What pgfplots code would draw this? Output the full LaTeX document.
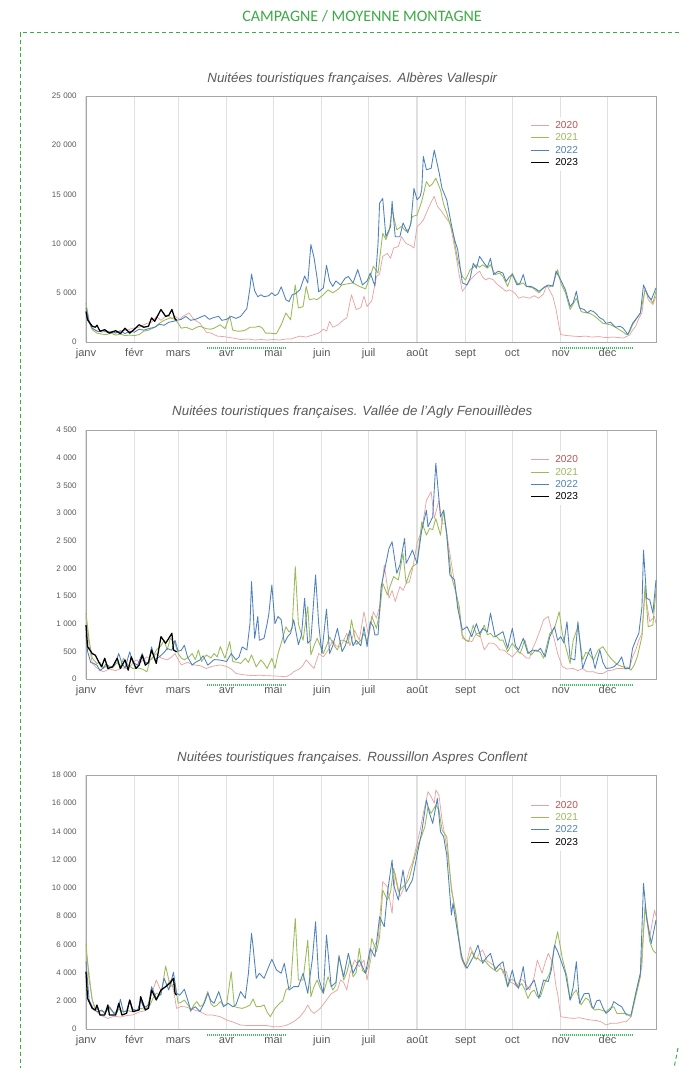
\documentclass[border=0pt]{standalone}
\usepackage{fontspec}
\setmainfont{Liberation Sans}
\newfontfamily\carlito{Carlito}
\usepackage{pgfplots}
\pgfplotsset{compat=1.18}

\definecolor{c20}{HTML}{E6A3A2}
\definecolor{c20t}{HTML}{C0504D}
\definecolor{c21}{HTML}{9BBB59}
\definecolor{c22}{HTML}{4F81BD}
\definecolor{txtgray}{HTML}{595959}
\definecolor{framegreen}{HTML}{3CAA45}
\definecolor{holgreen}{HTML}{3DBE60}

\tikzset{hol/.style={holgreen, dash pattern=on 0.75pt off 0.75pt, line width=0.8pt}}

\pgfplotsset{
  panel/.style={
    scale only axis, width=427.5pt,
    xmin=0, xmax=365, ymin=0,
    clip=false,
    xtick={0,31,59,90,120,151,181,212,243,273,304,334},
    xticklabels={janv,févr,mars,avr,mai,juin,juil,août,sept,oct,nov,déc},
    xmajorgrids,
    major grid style={line width=0.9pt, black!12},
    major tick length=0pt,
    axis line style={black!35, line width=0.7pt},
    scaled y ticks=false,
    /pgf/number format/1000 sep={\hspace{0.3em}},
    /pgf/number format/assume math mode=true,
    yticklabel style={font=\fontsize{6}{7}\selectfont, text=txtgray, xshift=-3.5pt},
    xticklabel style={font=\fontsize{8.3}{10}\selectfont, text=txtgray, anchor=base, yshift=-11pt},
    title style={font=\itshape\fontsize{10}{12}\selectfont, text=txtgray,
      anchor=base, at={(0.5,1)}, xshift=-14pt},
    legend style={at={(0.775,0.915)}, anchor=north west, draw=none, fill=white,
      font=\fontsize{7.6}{9}\selectfont, row sep=0.5pt, column sep=4pt, inner sep=2pt,
      nodes={inner sep=0.6pt, text height=6pt, text depth=1.5pt}},
    legend cell align=left,
    legend image code/.code={\draw[##1, line width=0.9pt] (0pt,0pt) -- (13pt,0pt);},
  },
  p20/.style={c20, line width=0.55pt, line join=round},
  p21/.style={c21, line width=0.65pt, line join=round},
  p22/.style={c22, line width=0.65pt, line join=round},
  p23/.style={black, line width=0.95pt, line join=round},
}

\begin{document}
\begin{tikzpicture}
\useasboundingbox (0,0) rectangle (509.25pt,802.5pt);

% header and frame
\node[text=framegreen, font=\carlito\fontsize{12}{14}\selectfont] at (271.5pt,790.5pt) {CAMPAGNE / MOYENNE MONTAGNE};
\draw[framegreen, line width=0.75pt, dash pattern=on 3pt off 2.2pt] (509.25pt,777.75pt) -- (15pt,777.75pt) -- (15pt,1.5pt);
\draw[framegreen, line width=0.75pt, dash pattern=on 3pt off 2.2pt] (508.5pt,16.5pt) -- (505.5pt,1.5pt);

% ---------- Albères Vallespir ----------
\begin{axis}[panel, at={(64.5pt,546pt)}, anchor=south west, height=184.5pt,
  ymax=25000, ytick={0,5000,10000,15000,20000,25000},
  title={Nuitées touristiques françaises. Albères Vallespir},
  title style={yshift=3.75pt}]
\addplot[p20] coordinates {(0,3900)(2,2200)(4,1400)(7,1100)(10,1000)(14,1100)(18,900)(22,1100)(26,1200)(30,1400)(34,1500)(39,1900)(42,2000)(45,2600)(48,2200)(52,2750)(55,2400)(57,2600)(60,2300)(62,2600)(66,2950)(69,2300)(73,1900)(77,1000)(80,900)(84,600)(88,550)(92,450)(96,350)(99,250)(104,300)(108,200)(112,250)(116,200)(120,250)(124,200)(128,300)(131,300)(134,450)(137,600)(141,500)(146,750)(149,900)(152,1300)(154,1100)(156,2100)(158,1500)(161,1700)(165,2250)(167,2450)(170,4800)(173,3300)(176,3500)(178,4650)(180,3600)(183,4200)(186,6650)(188,6900)(190,8700)(193,9000)(195,8500)(197,9550)(200,9700)(202,10700)(205,10000)(208,9800)(210,9550)(212,11750)(214,12000)(216,12400)(219,13500)(221,14200)(223,14800)(225,13800)(228,13200)(231,12500)(233,12100)(235,10500)(237,8700)(239,6800)(241,5150)(243,5600)(246,6300)(249,6800)(252,7200)(254,6600)(256,6300)(258,6500)(261,6300)(263,5900)(265,5650)(267,5400)(269,5150)(271,5300)(273,5150)(275,4900)(277,4450)(280,4600)(284,4450)(287,4700)(290,4450)(293,4900)(295,5800)(297,5200)(299,4600)(301,3300)(303,1500)(304,750)(308,650)(312,600)(316,550)(320,600)(324,500)(328,550)(333,450)(338,500)(344,400)(348,700)(350,1200)(352,1600)(354,2400)(356,2950)(358,5500)(360,4300)(363,3800)(365,4650)};
\addlegendentry{\textcolor{c20t}{2020}}
\addplot[p21] coordinates {(0,3950)(2,2000)(4,1250)(7,900)(10,800)(13,750)(16,900)(19,700)(22,800)(25,650)(28,700)(31,650)(34,750)(37,1100)(40,1200)(44,1500)(47,1900)(50,2200)(54,2450)(57,2300)(59,1900)(61,1400)(64,1500)(68,1250)(71,1500)(73,1600)(77,1350)(80,1300)(82,1400)(86,1750)(89,1350)(92,2650)(94,1200)(97,1100)(99,1100)(102,1200)(105,1500)(108,1500)(111,1600)(113,1400)(115,900)(118,900)(120,850)(122,850)(125,1750)(128,2950)(131,2250)(134,5800)(136,3450)(139,3600)(141,5650)(143,4300)(146,4400)(148,4300)(152,4800)(155,5300)(158,5000)(161,5300)(164,5800)(167,5900)(171,6000)(175,5650)(179,5400)(182,6650)(184,7700)(187,7000)(190,11050)(192,10400)(194,11200)(196,13400)(199,11400)(202,11750)(205,11250)(207,11500)(209,12750)(212,12900)(215,14300)(218,16300)(220,15800)(222,16100)(224,16650)(227,15450)(229,14000)(231,13100)(233,12000)(235,11050)(238,8350)(241,6650)(243,6300)(246,7350)(248,7600)(250,7850)(252,7600)(254,7850)(257,7500)(259,7850)(262,6850)(265,7000)(267,6650)(270,5650)(273,7000)(275,6300)(277,5800)(280,6000)(282,5650)(286,5500)(290,5000)(294,5650)(297,5600)(299,5800)(302,7350)(304,6000)(307,5000)(310,3300)(314,4450)(317,3100)(319,3000)(322,2950)(325,2700)(327,2450)(331,1900)(334,1800)(336,1750)(339,1500)(341,1300)(344,1000)(346,750)(348,1000)(350,1750)(353,2500)(355,2950)(358,5300)(361,4450)(363,3950)(365,5150)};
\addlegendentry{\textcolor{c21}{2021}}
\addplot[p22] coordinates {(0,3500)(2,2000)(4,1400)(6,1200)(8,1050)(11,1150)(14,950)(17,1100)(19,900)(22,1150)(25,850)(28,1100)(31,1000)(34,1300)(37,1200)(40,1350)(44,1500)(47,1800)(50,1700)(53,2000)(56,2100)(58,2200)(61,2300)(64,2600)(67,2200)(70,2300)(73,2500)(76,2700)(79,2300)(82,2500)(85,2600)(87,2200)(90,2300)(93,2600)(96,2400)(99,2600)(101,3000)(103,3400)(105,5500)(106,6900)(108,5200)(110,4600)(112,4800)(114,4600)(117,4700)(119,5000)(121,4700)(123,4900)(125,5600)(128,4300)(130,4100)(132,4800)(134,4900)(137,5300)(140,6700)(142,6000)(144,9900)(146,8600)(148,6500)(149,5100)(152,5500)(154,7800)(156,6200)(158,5650)(160,6200)(163,5800)(166,6500)(168,6650)(171,6000)(174,7350)(177,5800)(180,6200)(182,7000)(185,5700)(187,10000)(188,14100)(190,14600)(192,10700)(195,11700)(196,14300)(198,10700)(201,10700)(203,12100)(206,11100)(208,12000)(210,15600)(212,14450)(214,14800)(215,15500)(216,18850)(218,17500)(221,17650)(223,19500)(226,17300)(228,15600)(231,14450)(234,11900)(236,10400)(238,9400)(241,6000)(244,5800)(246,6500)(248,8000)(250,7500)(252,8700)(255,8000)(257,7600)(259,8500)(261,6850)(264,7200)(267,7000)(269,6150)(271,6600)(273,6850)(276,5800)(278,6000)(280,6850)(282,5650)(285,5650)(288,5400)(290,5150)(293,5500)(296,5800)(299,5650)(301,7200)(304,6300)(307,5300)(310,3600)(312,4000)(314,5150)(316,3450)(319,3300)(321,2950)(323,3200)(325,3100)(327,2800)(329,2450)(331,2300)(333,1900)(336,2000)(339,1500)(342,1600)(344,1400)(347,750)(350,1900)(353,2500)(355,2950)(357,5800)(360,4650)(362,4300)(365,5500)};
\addlegendentry{\textcolor{c22}{2022}}
\addplot[p23] coordinates {(0,3100)(1,2250)(4,1600)(6,1500)(7,1700)(9,1100)(12,1250)(15,900)(19,1150)(22,850)(25,1400)(28,900)(31,1300)(34,1750)(37,1500)(40,1600)(42,2450)(44,2100)(48,3300)(51,2600)(53,2700)(55,3300)(57,2350)(58,2200)};
\addlegendentry{2023}
\draw[hol] ([yshift=-4.5pt]axis cs:77.5,0) -- ([yshift=-4.5pt]axis cs:127.5,0);
\draw[hol] ([yshift=-4.5pt]axis cs:303.5,0) -- ([yshift=-4.5pt]axis cs:350.5,0);
\end{axis}

% ---------- Vallée de l'Agly Fenouillèdes ----------
\begin{axis}[panel, at={(64.5pt,293.25pt)}, anchor=south west, height=186.75pt,
  ymax=4500, ytick={0,500,...,4500},
  title={Nuitées touristiques françaises. Vallée de l'Agly Fenouillèdes},
  title style={yshift=4.5pt}]
\addplot[p20] coordinates {(0,1130)(2,600)(4,280)(7,200)(11,130)(15,180)(19,150)(23,200)(26,190)(29,250)(32,345)(35,300)(39,400)(42,350)(45,460)(48,380)(52,345)(55,400)(57,460)(59,350)(61,255)(65,300)(69,255)(73,240)(77,190)(81,230)(86,255)(90,225)(93,180)(96,100)(100,80)(103,70)(107,60)(111,70)(115,60)(120,55)(124,50)(128,40)(131,80)(133,130)(137,190)(139,250)(141,345)(144,250)(146,190)(149,460)(152,400)(155,520)(158,700)(160,600)(163,580)(165,700)(167,825)(169,600)(172,880)(175,700)(178,1215)(181,760)(184,1215)(186,1100)(188,1310)(191,2060)(194,1460)(196,1600)(198,1400)(201,1670)(203,1600)(205,1730)(207,1750)(209,1970)(212,2450)(215,2690)(218,3230)(221,3385)(223,2900)(226,3230)(228,2800)(230,2810)(233,2270)(236,1730)(239,1190)(241,735)(244,700)(247,675)(250,820)(252,825)(255,525)(258,650)(261,645)(263,600)(265,525)(268,520)(270,460)(273,400)(276,500)(279,460)(282,380)(284,375)(286,550)(288,675)(291,900)(293,1070)(296,1130)(298,900)(300,705)(302,460)(305,225)(308,180)(312,190)(315,150)(318,190)(321,130)(325,130)(328,100)(331,100)(334,150)(337,160)(340,190)(343,190)(346,180)(348,190)(350,400)(352,525)(354,700)(356,825)(358,1550)(361,1035)(364,1130)(365,1000)};
\addlegendentry{\textcolor{c20t}{2020}}
\addplot[p21] coordinates {(0,1190)(2,700)(4,375)(7,280)(9,300)(11,190)(14,250)(17,200)(20,300)(22,220)(24,375)(27,250)(30,190)(33,200)(36,180)(39,130)(41,345)(43,400)(45,525)(48,600)(50,700)(52,525)(54,735)(57,645)(59,460)(61,380)(63,345)(66,400)(68,460)(70,350)(72,525)(74,315)(77,435)(80,380)(82,460)(84,400)(86,585)(89,375)(92,675)(94,315)(97,300)(99,280)(102,375)(104,300)(106,435)(109,220)(112,345)(114,280)(116,190)(119,375)(121,190)(123,460)(125,645)(128,945)(130,850)(132,910)(134,2030)(136,1000)(139,700)(142,1310)(144,435)(146,600)(148,735)(150,600)(152,460)(154,600)(156,760)(159,600)(161,525)(163,700)(165,700)(168,645)(170,1070)(173,620)(176,700)(178,825)(180,670)(183,1130)(186,915)(188,1200)(190,1730)(193,1520)(195,1700)(197,1850)(200,1790)(203,2270)(205,1730)(207,1900)(209,2030)(212,2090)(215,2840)(218,2600)(220,2720)(222,2700)(224,2900)(227,2600)(229,3050)(231,2580)(234,1850)(237,1550)(239,1310)(241,795)(243,700)(245,675)(248,975)(250,800)(252,765)(255,975)(257,800)(259,825)(261,760)(263,765)(265,700)(267,705)(270,495)(273,645)(275,560)(278,460)(281,705)(283,500)(285,435)(288,525)(291,480)(293,375)(295,600)(297,825)(300,915)(303,1215)(305,825)(307,600)(310,280)(312,705)(315,945)(318,345)(320,480)(322,460)(325,345)(328,525)(331,585)(334,450)(336,375)(339,290)(341,250)(344,220)(347,210)(349,160)(351,250)(353,400)(356,765)(358,1700)(360,945)(363,975)(365,1610)};
\addlegendentry{\textcolor{c21}{2021}}
\addplot[p22] coordinates {(0,800)(1,500)(3,300)(5,280)(7,250)(9,150)(11,200)(13,280)(15,200)(18,240)(21,460)(23,280)(25,200)(28,490)(30,300)(33,250)(36,460)(38,300)(40,280)(42,580)(44,350)(47,400)(50,480)(52,550)(55,520)(57,700)(59,500)(61,520)(63,610)(65,400)(68,250)(70,300)(73,345)(75,420)(78,250)(80,300)(82,350)(85,345)(88,330)(90,315)(93,460)(96,345)(98,400)(100,580)(103,525)(105,1000)(106,1760)(108,735)(110,1130)(111,700)(114,735)(116,1000)(117,1160)(119,1700)(121,1000)(123,1130)(125,1070)(127,645)(129,760)(131,825)(133,1070)(136,620)(138,800)(140,1460)(142,645)(144,700)(147,1880)(149,1000)(151,460)(154,1265)(156,460)(158,600)(161,915)(164,495)(166,600)(169,880)(171,600)(173,700)(176,600)(178,945)(180,585)(182,1035)(184,945)(185,795)(187,800)(189,1670)(191,1940)(194,2360)(196,2480)(199,1910)(201,2060)(204,2540)(205,2090)(207,2200)(209,2330)(212,2090)(215,2690)(218,3050)(219,2750)(222,2930)(224,3900)(225,3570)(227,2930)(229,3050)(231,2630)(233,1880)(236,1790)(238,1280)(241,885)(244,945)(247,765)(250,1000)(252,820)(254,915)(257,850)(259,1190)(262,765)(264,800)(267,855)(270,555)(273,915)(275,600)(277,525)(280,735)(283,460)(286,525)(289,500)(291,555)(294,400)(297,765)(300,945)(302,700)(304,765)(306,650)(308,1035)(310,375)(313,345)(315,1035)(318,190)(320,350)(323,555)(326,190)(329,525)(331,300)(333,190)(336,200)(338,220)(341,300)(343,400)(345,190)(348,190)(350,555)(352,700)(354,825)(356,1300)(357,2330)(359,1460)(361,1430)(363,1190)(365,1790)};
\addlegendentry{\textcolor{c22}{2022}}
\addplot[p23] coordinates {(0,975)(1,585)(4,460)(6,430)(8,315)(10,220)(12,375)(14,190)(17,220)(20,375)(22,190)(25,345)(27,160)(29,400)(32,190)(34,250)(36,430)(38,250)(40,300)(42,525)(45,280)(48,765)(51,645)(53,735)(55,825)(56,525)(58,490)};
\addlegendentry{2023}
\draw[hol] ([yshift=-4.5pt]axis cs:77.5,0) -- ([yshift=-4.5pt]axis cs:127.5,0);
\draw[hol] ([yshift=-4.5pt]axis cs:303.5,0) -- ([yshift=-4.5pt]axis cs:350.5,0);
\end{axis}

% ---------- Roussillon Aspres Conflent ----------
\begin{axis}[panel, at={(64.5pt,30.75pt)}, anchor=south west, height=190.5pt,
  ymax=18000, ytick={0,2000,...,18000},
  title={Nuitées touristiques françaises. Roussillon Aspres Conflent},
  title style={yshift=3.75pt}]
\addplot[p20] coordinates {(0,5600)(2,3900)(4,2050)(6,1300)(9,1000)(12,850)(14,750)(18,900)(22,850)(26,950)(30,1000)(34,1200)(38,1300)(41,2150)(43,2800)(45,3470)(48,2700)(51,3000)(54,3470)(56,2800)(58,1460)(61,1600)(64,1560)(68,1400)(73,1230)(77,1000)(81,990)(86,870)(90,640)(94,500)(99,280)(103,250)(107,240)(111,240)(116,240)(120,165)(124,165)(128,250)(131,400)(134,600)(137,870)(140,1300)(142,1700)(144,1300)(146,1110)(150,1460)(154,2050)(157,2500)(161,2760)(163,3470)(165,3300)(167,2760)(169,3950)(172,4890)(175,4420)(178,4890)(180,3470)(183,5360)(185,6000)(187,6300)(190,10440)(193,10080)(196,8200)(198,11030)(201,9380)(204,10080)(207,11270)(209,11800)(211,12680)(214,14100)(216,15280)(219,16820)(221,16460)(223,16000)(224,16940)(226,16580)(228,14810)(231,12920)(234,10080)(237,7960)(240,5120)(243,4300)(246,5830)(250,4890)(252,5400)(254,5600)(257,4800)(259,4680)(263,4300)(265,4600)(267,3950)(269,4100)(271,3360)(274,3200)(276,3000)(278,3500)(280,3470)(284,2760)(287,3700)(289,4890)(292,3950)(294,4700)(296,5360)(299,4650)(301,3000)(302,2500)(304,870)(308,800)(312,750)(316,800)(320,700)(323,640)(327,600)(330,500)(333,280)(336,400)(340,400)(343,500)(346,520)(349,870)(352,2500)(354,3500)(356,4420)(358,8900)(361,6540)(364,8430)(365,8000)};
\addlegendentry{\textcolor{c20t}{2020}}
\addplot[p21] coordinates {(0,6070)(2,3500)(4,2050)(6,1460)(9,1300)(12,1200)(15,1460)(18,1100)(21,1400)(24,1200)(27,1300)(29,1230)(32,1300)(35,1460)(38,1400)(41,1700)(43,2200)(45,2530)(48,2400)(51,4460)(54,3000)(57,3220)(59,1820)(61,1900)(63,2050)(66,1600)(67,1230)(69,1700)(71,1940)(73,1600)(75,1700)(78,2650)(80,1800)(82,1580)(84,1700)(86,1940)(88,1700)(90,1700)(93,4060)(95,1580)(98,1500)(100,1460)(103,1580)(105,1700)(107,2125)(109,1580)(112,1600)(114,1700)(116,1200)(118,870)(121,1460)(124,1820)(126,2000)(128,2760)(131,3000)(134,7840)(136,3470)(139,3470)(142,6300)(144,2290)(146,3000)(148,3470)(150,2900)(152,2530)(155,3700)(158,2760)(160,3100)(162,5240)(165,3470)(167,4000)(169,4890)(171,3700)(173,4000)(175,5720)(177,4150)(179,3950)(181,4500)(183,6420)(186,5480)(188,6540)(190,9850)(193,9140)(195,9700)(197,11385)(200,9730)(203,10080)(205,10300)(207,10680)(210,11975)(213,13160)(215,13700)(217,14340)(219,15750)(221,15280)(224,15870)(226,15520)(228,14100)(231,13630)(234,9850)(237,8080)(240,5360)(243,4420)(245,4900)(247,5480)(249,5000)(251,5010)(253,4800)(255,4890)(258,4500)(260,4300)(263,4060)(265,4300)(267,4180)(270,2990)(272,3500)(274,3470)(277,3000)(279,3220)(281,2800)(283,2170)(285,2600)(287,2760)(289,2300)(291,2290)(294,3330)(297,3950)(300,5830)(302,6900)(305,5010)(308,3700)(310,2050)(312,2500)(314,2760)(317,1700)(320,2200)(322,2050)(324,1500)(326,1340)(328,1400)(330,1340)(333,1230)(336,1500)(338,1580)(340,1100)(342,1100)(344,1100)(346,1100)(349,870)(352,2290)(355,3700)(358,8670)(361,6190)(363,5600)(365,5360)};
\addlegendentry{\textcolor{c21}{2021}}
\addplot[p22] coordinates {(0,4770)(2,2050)(5,1350)(8,1200)(10,1350)(12,1100)(15,1580)(18,1100)(20,1200)(22,2100)(24,1200)(26,1300)(28,2050)(30,1400)(33,1300)(35,2050)(37,1500)(40,1700)(42,3000)(45,2170)(48,2500)(50,3590)(53,2760)(56,4015)(58,2530)(60,2400)(63,2810)(65,2100)(67,1350)(70,1580)(73,1230)(76,1900)(78,2530)(80,2000)(82,1820)(85,2650)(88,1580)(91,1820)(94,1580)(96,1700)(99,2650)(102,2170)(104,3950)(106,6780)(107,5830)(109,3590)(111,3950)(114,3590)(117,4420)(119,4940)(122,4180)(125,3950)(127,4650)(130,2760)(133,3000)(136,3000)(139,3950)(142,2530)(145,5000)(147,7600)(149,3590)(152,2530)(154,6660)(157,3000)(160,3300)(162,5120)(165,3700)(168,5360)(171,3950)(175,4890)(179,3950)(182,5700)(185,5120)(188,7960)(191,7250)(193,9610)(196,11975)(197,10200)(200,9140)(203,11270)(205,9730)(209,10560)(212,12330)(215,13980)(218,16230)(220,15280)(222,14570)(225,16340)(227,13980)(229,13630)(231,12330)(234,8080)(235,8900)(238,6780)(241,4890)(244,4300)(246,4700)(248,5120)(251,5950)(254,4650)(256,5000)(259,5360)(262,4180)(264,4500)(267,4770)(270,3000)(273,4180)(275,3200)(277,2880)(280,4420)(282,2760)(284,3000)(287,3470)(290,2170)(293,3470)(296,3360)(298,4200)(300,5950)(302,5500)(304,4890)(307,3950)(310,2050)(312,3000)(314,4770)(316,1820)(319,2500)(322,2530)(324,1600)(325,1460)(327,2000)(329,2050)(331,1500)(333,1110)(336,1400)(338,1940)(341,1700)(343,1580)(346,990)(349,990)(352,2530)(355,3950)(357,10320)(359,7840)(362,6070)(365,7720)};
\addlegendentry{\textcolor{c22}{2022}}
\addplot[p23] coordinates {(0,4060)(1,2170)(4,1460)(6,1350)(7,1700)(9,990)(12,990)(14,1700)(15,990)(19,990)(21,1820)(23,990)(26,1110)(28,2055)(30,1230)(34,1350)(35,2290)(38,1350)(40,1460)(42,2760)(45,2055)(48,2760)(51,3000)(54,3280)(56,3590)(57,2530)(58,2400)};
\addlegendentry{2023}
\draw[hol] ([yshift=-4.5pt]axis cs:77.5,0) -- ([yshift=-4.5pt]axis cs:127.5,0);
\draw[hol] ([yshift=-4.5pt]axis cs:303.5,0) -- ([yshift=-4.5pt]axis cs:350.5,0);
\end{axis}
\end{tikzpicture}
\end{document}
